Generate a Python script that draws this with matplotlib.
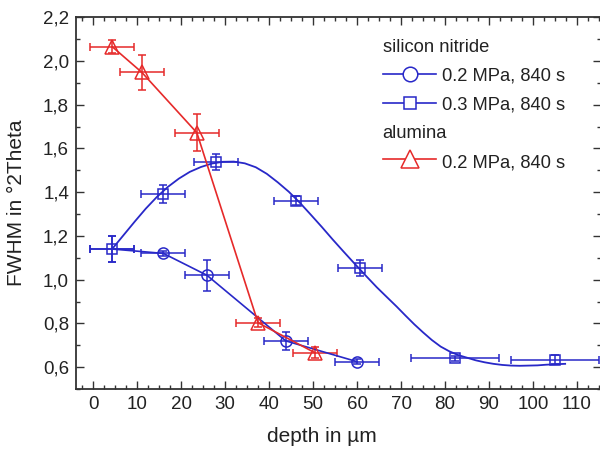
import matplotlib
matplotlib.use("Agg")
import matplotlib.pyplot as plt
from matplotlib.lines import Line2D
from matplotlib.ticker import MultipleLocator, FuncFormatter

plt.rcParams['font.family'] = ['Liberation Sans', 'DejaVu Sans']

# silicon nitride 0.2 MPa, 840 s (circles)
sn02_x = [4.4, 16.0, 25.9, 43.8, 60.0]
sn02_y = [1.14, 1.12, 1.02, 0.72, 0.625]
sn02_xerr = [5, 5, 5, 5, 5]
sn02_yerr = [0.06, 0.012, 0.07, 0.04, 0.012]

# silicon nitride 0.3 MPa, 840 s (squares)
sn03_x = [4.4, 16.0, 27.9, 46.2, 60.7, 82.3, 104.9]
sn03_y = [1.14, 1.393, 1.538, 1.362, 1.052, 0.641, 0.634]
sn03_xerr = [5, 5, 5, 5, 5, 10, 10]
sn03_yerr = [0.06, 0.041, 0.038, 0.022, 0.036, 0.012, 0.02]

# fit curve through the 0.3 MPa series
fit_x = [4.5, 7.0, 9.5, 12.0, 14.5, 17.0, 19.5, 22.0, 24.5, 27.0, 29.5, 32.0,
         34.5, 37.0, 39.5, 42.0, 44.5, 47.0, 49.5, 52.0, 54.5, 57.0, 59.5,
         62.0, 64.5, 67.0, 69.0, 71.0, 73.0, 75.0, 77.0, 79.0, 81.0, 83.0,
         85.0, 87.0, 89.0, 91.0, 93.0, 95.0, 97.0, 99.0, 101.0, 103.0, 105.0,
         107.3]
fit_y = [1.144, 1.205, 1.266, 1.325, 1.378, 1.424, 1.462, 1.493, 1.515, 1.531,
         1.539, 1.540, 1.532, 1.514, 1.484, 1.445, 1.402, 1.352, 1.297, 1.241,
         1.183, 1.127, 1.072, 1.018, 0.965, 0.916, 0.877, 0.836, 0.796, 0.759,
         0.724, 0.694, 0.672, 0.655, 0.643, 0.631, 0.622, 0.615, 0.610, 0.607,
         0.606, 0.607, 0.608, 0.611, 0.613, 0.615]

# alumina 0.2 MPa, 840 s (triangles)
al_x = [4.4, 11.1, 23.6, 37.5, 50.5]
al_y = [2.065, 1.948, 1.672, 0.803, 0.665]
al_xerr = [5, 5, 5, 5, 5]
al_yerr = [0.03, 0.08, 0.085, 0.02, 0.025]

legend_headers = ["silicon nitride", "alumina"]
legend_labels = ["0.2 MPa, 840 s", "0.3 MPa, 840 s", "0.2 MPa, 840 s"]

BLUE = '#2828c8'
RED = '#e62a2a'

fig = plt.figure(figsize=(6, 4.5), dpi=100)
ax = fig.add_axes([0.1267, 0.1356, 0.875, 0.826])

ekw = dict(fmt='none', elinewidth=1.1, capsize=3, capthick=1.1)
ax.errorbar(sn02_x, sn02_y, xerr=sn02_xerr, yerr=sn02_yerr, ecolor=BLUE, **ekw)
ax.errorbar(sn03_x, sn03_y, xerr=sn03_xerr, yerr=sn03_yerr, ecolor=BLUE, **ekw)
ax.errorbar(al_x, al_y, xerr=al_xerr, yerr=al_yerr, ecolor=RED, **ekw)

ax.plot(sn02_x, sn02_y, '-', color=BLUE, lw=1.2, marker='o', ms=8,
        mfc='none', mec=BLUE, mew=1.1, markevery=slice(1, None))
ax.plot(fit_x, fit_y, '-', color=BLUE, lw=1.3, solid_joinstyle='round')
ax.plot(sn03_x, sn03_y, 's', color=BLUE, ms=7.3, mfc='none', mec=BLUE, mew=1.1)
ax.plot(al_x, al_y, '-', color=RED, lw=1.2, marker='^', ms=10.5,
        mfc='none', mec=RED, mew=1.1)

ax.set_xlim(-3.86, 115.45)
ax.set_ylim(0.5, 2.2)

ax.xaxis.set_major_locator(MultipleLocator(10))
ax.xaxis.set_minor_locator(MultipleLocator(2.5))
ax.yaxis.set_major_locator(MultipleLocator(0.2))
ax.yaxis.set_minor_locator(MultipleLocator(0.1))
ax.yaxis.set_major_formatter(FuncFormatter(lambda v, p: f"{v:.1f}".replace('.', ',')))
ax.xaxis.set_major_formatter(FuncFormatter(lambda v, p: f"{v:.0f}"))

ax.tick_params(which='both', direction='in', top=True, right=True,
               colors='#333333', labelcolor='#222222', labelsize=13.5, width=1.0)
ax.tick_params(which='major', length=6, pad=5)
ax.tick_params(which='minor', length=3)
for s in ax.spines.values():
    s.set_color('#333333')
    s.set_linewidth(1.3)

ax.set_xlabel("depth in µm", fontsize=15, color='#222222')
ax.set_ylabel("FWHM in °2Theta", fontsize=15, color='#222222')
ax.xaxis.set_label_coords((322 - 76) / 525.0, (389 - 437) / 371.7)
ax.yaxis.set_label_coords((16 - 76) / 525.0, 0.5)
ax.xaxis.label.set_va('center')
ax.yaxis.label.set_va('center')

# manual legend in axes coordinates
def axx(px):
    return (px - 76) / 525.0

def axy(py):
    return (389 - py) / 371.7

tkw = dict(transform=ax.transAxes, fontsize=13.2, color='#222222', va='baseline', ha='left')
ax.text(axx(382.7), axy(51.7), legend_headers[0], **tkw)
ax.text(axx(382.7), axy(138.3), legend_headers[1], **tkw)

entries = [(74, BLUE, 'o', 10.5), (102.7, BLUE, 's', 8.5), (159, RED, '^', 12.5)]
baselines = [80.7, 110, 167.3]
for (py, c, m, ms), bl, lab in zip(entries, baselines, legend_labels):
    ax.add_line(Line2D([axx(382.7), axx(436)], [axy(py), axy(py)], transform=ax.transAxes,
                       color=c, lw=1.2))
    ax.add_line(Line2D([axx(409.5)], [axy(py)], transform=ax.transAxes, color=c,
                       marker=m, ms=ms, mfc='white', mec=c, mew=1.1, ls='none'))
    ax.text(axx(441.7), axy(bl), lab, **tkw)

fig.savefig("out.png", dpi=100)
